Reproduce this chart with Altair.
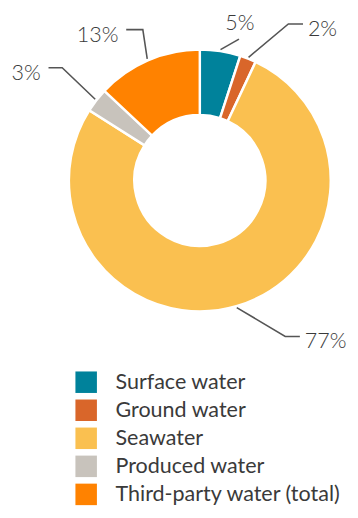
import altair as alt
import pandas as pd
import numpy as np

# ---- data ----
categories = ["Surface water", "Ground water", "Seawater", "Produced water", "Third-party water (total)"]
shares = [5, 2, 77, 3, 13]
labels = ["5%", "2%", "77%", "3%", "13%"]
colors = ["#00829B", "#D9662A", "#FAC050", "#C8C3BC", "#FF8200"]

# ---- layout / style ----
W, H = 350, 510
CX, CY = 196.3, 170.5
R_OUT, R_IN = 134, 67
R_START = 135.5
FONT = "Lato"
TEXT_COLOR = "#3a3a3a"
LINE_COLOR = "#555555"
# per label: (elbow radius, elbow angle offset in degrees, horizontal tail length, side)
label_layout = {
    "Surface water": (150, 6.5, 0, "top"),
    "Ground water": (184, 7.9, 15, "right"),
    "Seawater": (182, -12.5, 15, "right"),
    "Produced water": (182, 1.5, -14, "left"),
    "Third-party water (total)": (165, 2.7, -17, "left"),
}

df = pd.DataFrame({"category": categories, "share": shares, "label": labels,
                   "idx": range(len(categories))})
total = float(sum(shares))
cum = np.cumsum([0] + shares[:-1])
mid = (cum + np.array(shares) / 2) / total * 2 * np.pi


def pt(r, a):
    return CX + r * np.sin(a), CY - r * np.cos(a)


line_rows, text_rows = [], []
for i, cat in enumerate(categories):
    r_el, off, tail, side = label_layout[cat]
    a = mid[i]
    x0, y0 = pt(R_START, a)
    x1, y1 = pt(r_el, a + np.deg2rad(off))
    x2, y2 = x1 + tail, y1
    line_rows += [dict(category=cat, seq=0, x=x0, y=y0),
                  dict(category=cat, seq=1, x=x1, y=y1),
                  dict(category=cat, seq=2, x=x2, y=y2)]
    if side == "top":
        tx, ty = x1 + 1, y1 - 16
    elif side == "right":
        tx, ty = x2 + 5, y2 + 5
    else:
        tx, ty = x2 - 8, y2 + 6
    text_rows.append(dict(category=cat, label=labels[i], x=tx, y=ty, side=side))

lines_df = pd.DataFrame(line_rows)
text_df = pd.DataFrame(text_rows)

xs = alt.Scale(domain=[0, W], range=[0, W], nice=False, zero=False)
ys = alt.Scale(domain=[0, H], range=[0, H], nice=False, zero=False)

arcs = alt.Chart(df).mark_arc(
    innerRadius=R_IN, outerRadius=R_OUT, stroke="white", strokeWidth=2.5
).encode(
    theta=alt.Theta("share:Q", stack=True),
    color=alt.Color(
        "category:N",
        scale=alt.Scale(domain=categories, range=colors),
        sort=categories,
        legend=alt.Legend(
            title=None, orient="none", legendX=69, legendY=366, direction="vertical",
            symbolType="square", symbolSize=484, symbolStrokeWidth=0, symbolOpacity=1,
            labelFont=FONT, labelFontSize=22, labelColor=TEXT_COLOR,
            rowPadding=6.7, labelOffset=19, labelLimit=400,
        ),
    ),
    order=alt.Order("idx:Q"),
    x=alt.value(CX),
    y=alt.value(CY),
)

leaders = alt.Chart(lines_df).mark_line(color=LINE_COLOR, strokeWidth=1.6).encode(
    x=alt.X("x:Q", scale=xs, axis=None),
    y=alt.Y("y:Q", scale=ys, axis=None),
    detail="category:N",
    order="seq:Q",
)


def text_layer(side, align):
    return alt.Chart(text_df).transform_filter(alt.datum.side == side).mark_text(
        align=align, baseline="middle", font=FONT, fontSize=22, fontWeight=300, color=TEXT_COLOR
    ).encode(
        x=alt.X("x:Q", scale=xs, axis=None),
        y=alt.Y("y:Q", scale=ys, axis=None),
        text="label:N",
    )


chart = alt.layer(
    arcs, leaders,
    text_layer("top", "center"), text_layer("right", "left"), text_layer("left", "right"),
).properties(
    width=W, height=H, padding=0,
    autosize=alt.AutoSizeParams(type="none"),
).configure_view(stroke=None)

chart.save("out.html", embed_options={"renderer": "svg", "actions": False})
